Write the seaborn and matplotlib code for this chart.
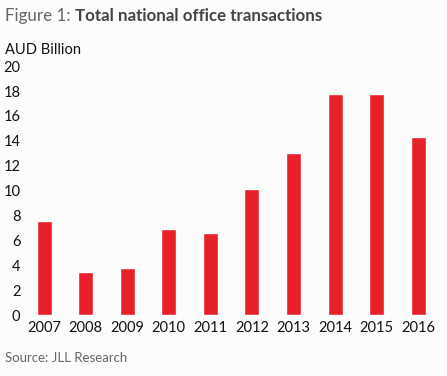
import numpy as np
import pandas as pd
import matplotlib
matplotlib.use("Agg")
import matplotlib.pyplot as plt
import seaborn as sns

# Data
years = ["2007", "2008", "2009", "2010", "2011", "2012", "2013", "2014", "2015", "2016"]
transactions = [7.6, 3.5, 3.8, 6.9, 6.6, 10.1, 13.0, 17.8, 17.8, 14.3]
yticks = [0, 2, 4, 6, 8, 10, 12, 14, 16, 18, 20]

df = pd.DataFrame({"year": years, "value": transactions})

sns.set_theme(style="white")
plt.rcParams["font.family"] = ["Lato", "DejaVu Sans"]

fig = plt.figure(figsize=(4.47, 3.76), dpi=100)
fig.patch.set_facecolor("#fcfcfc")
ax = fig.add_axes([0.052, 0.162, 0.93, 0.662])
ax.set_facecolor("#fcfcfc")

sns.barplot(data=df, x="year", y="value", color="#e8202a", width=0.36,
            saturation=1, ax=ax)

ax.set_ylim(0, 20)
ax.set_xlim(-0.5, 9.5)
ax.set_yticks(yticks)
ax.set_xlabel("")
ax.set_ylabel("")
for s in ax.spines.values():
    s.set_visible(False)
ax.tick_params(axis="y", length=0, pad=2, labelsize=10.5, colors="#111111")
ax.tick_params(axis="x", length=0, pad=4, labelsize=10.5, colors="#111111")

# Title (two styles on one line), unit label and source
t1 = fig.text(0.012, 0.958, "Figure 1: ", fontsize=12.2, color="#666666", va="center")
ax.annotate("Total national office transactions", xy=(1, 0.5), xycoords=t1,
            fontsize=12.2, color="#444444", fontweight="bold", va="center",
            annotation_clip=False)
fig.text(0.012, 0.868, "AUD Billion", fontsize=10.5, color="#111111", va="center")
fig.text(0.012, 0.047, "Source: JLL Research", fontsize=9.5, color="#666666", va="center")

fig.savefig("out.png", dpi=100, facecolor=fig.get_facecolor())
